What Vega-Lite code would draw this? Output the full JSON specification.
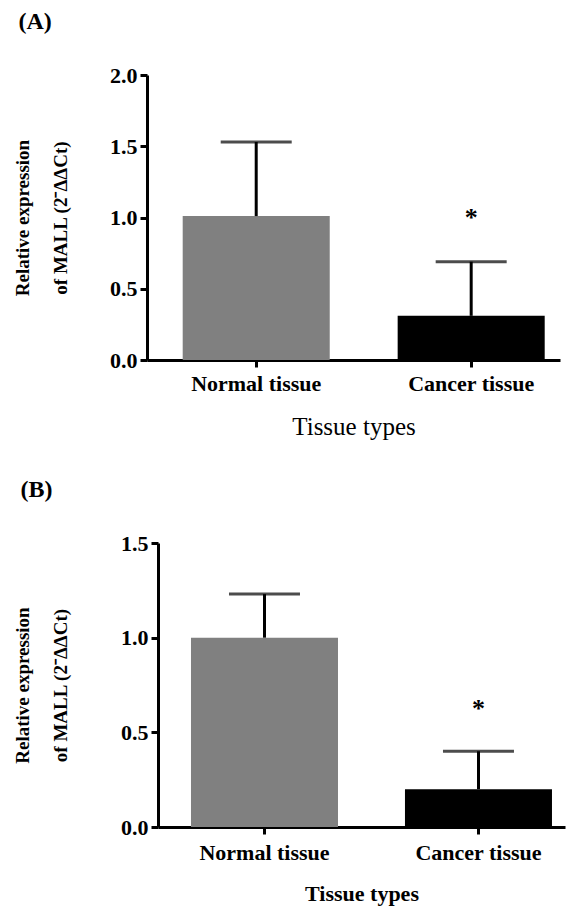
{
  "$schema": "https://vega.github.io/schema/vega-lite/v6.json",
  "padding": {"left": 12, "top": 10, "right": 5, "bottom": 5},
  "background": "white",
  "spacing": 39,
  "config": {
    "font": "Liberation Serif",
    "view": {"stroke": null},
    "axis": {
      "domainWidth": 3, "domainColor": "black", "tickWidth": 3, "tickColor": "black", "tickSize": 7,
      "labelFont": "Liberation Serif", "labelFontWeight": "bold", "labelFontSize": 22, "labelColor": "black",
      "titleFont": "Liberation Serif", "titleColor": "black", "titleFontWeight": "bold", "grid": false
    },
    "title": {"font": "Liberation Serif", "fontSize": 24, "fontWeight": "bold", "color": "black", "anchor": "start", "frame": "bounds"}
  },
  "vconcat": [
    {"hconcat": [
    {"data": {"values": []}, "mark": "point", "width": 1, "height": 1},
    {
      "title": {"text": "(A)", "offset": 30, "dx": 5},
      "width": 413, "height": 285,
      "data": {"values": [
        {"tissue": "Normal tissue", "mean": 1.01, "upper": 1.53, "star": null},
        {"tissue": "Cancer tissue", "mean": 0.31, "upper": 0.69, "star": 0.94}
      ]},
      "encoding": {
        "x": {"field": "tissue", "type": "nominal", "sort": ["Normal tissue", "Cancer tissue"],
          "scale": {"paddingInner": 0.316, "paddingOuter": 0.1186, "align": 0.7},
          "axis": {"title": "Tissue types", "labelAngle": 0, "labelPadding": 6, "titleFontSize": 25, "titleFontWeight": "normal", "titlePadding": 20}}
      },
      "layer": [
        {"mark": {"type": "bar"},
         "encoding": {
           "y": {"field": "mean", "type": "quantitative", "scale": {"domain": [0, 2], "nice": false},
             "axis": {"values": [0, 0.5, 1, 1.5, 2], "format": ".1f", "labelPadding": 3,
               "title": ["Relative expression", "of MALL (2⁻ΔΔCt)"], "titleFontSize": 19, "titleLineHeight": 38, "titlePadding": 39}},
           "color": {"field": "tissue", "type": "nominal", "scale": {"domain": ["Normal tissue", "Cancer tissue"], "range": ["#808080", "#000000"]}, "legend": null}
         }},
        {"mark": {"type": "rule", "strokeWidth": 3, "color": "black"},
         "encoding": {"y": {"field": "mean", "type": "quantitative"}, "y2": {"field": "upper"}}},
        {"mark": {"type": "tick", "thickness": 3, "size": 71, "color": "black"},
         "encoding": {"y": {"field": "upper", "type": "quantitative"}}},
        {"transform": [{"filter": "datum.star != null"}],
         "mark": {"type": "text", "text": "*", "fontSize": 26, "fontWeight": "bold", "baseline": "alphabetic", "color": "black"},
         "encoding": {"y": {"field": "star", "type": "quantitative"}}}
      ]
    }], "spacing": 0},
    {"hconcat": [
    {"data": {"values": []}, "mark": "point", "width": 1, "height": 1},
    {
      "title": {"text": "(B)", "offset": 30, "dx": 7},
      "width": 407, "height": 284,
      "data": {"values": [
        {"tissue": "Normal tissue", "mean": 1.0, "upper": 1.23, "star": null},
        {"tissue": "Cancer tissue", "mean": 0.2, "upper": 0.4, "star": 0.58}
      ]},
      "encoding": {
        "x": {"field": "tissue", "type": "nominal", "sort": ["Normal tissue", "Cancer tissue"],
          "scale": {"paddingInner": 0.313, "paddingOuter": 0.1075, "align": 0.717},
          "axis": {"title": "Tissue types", "labelAngle": 0, "labelPadding": 8, "titleFontSize": 22, "titleFontWeight": "bold", "titlePadding": 20}}
      },
      "layer": [
        {"mark": {"type": "bar"},
         "encoding": {
           "y": {"field": "mean", "type": "quantitative", "scale": {"domain": [0, 1.5], "nice": false},
             "axis": {"values": [0, 0.5, 1, 1.5], "format": ".1f", "labelPadding": 3,
               "title": ["Relative expression", "of MALL (2⁻ΔΔCt)"], "titleFontSize": 19, "titleLineHeight": 38, "titlePadding": 50}},
           "color": {"field": "tissue", "type": "nominal", "scale": {"domain": ["Normal tissue", "Cancer tissue"], "range": ["#808080", "#000000"]}, "legend": null}
         }},
        {"mark": {"type": "rule", "strokeWidth": 3, "color": "black"},
         "encoding": {"y": {"field": "mean", "type": "quantitative"}, "y2": {"field": "upper"}}},
        {"mark": {"type": "tick", "thickness": 3, "size": 71, "color": "black"},
         "encoding": {"y": {"field": "upper", "type": "quantitative"}}},
        {"transform": [{"filter": "datum.star != null"}],
         "mark": {"type": "text", "text": "*", "fontSize": 26, "fontWeight": "bold", "baseline": "alphabetic", "color": "black"},
         "encoding": {"y": {"field": "star", "type": "quantitative"}}}
      ]
    }], "spacing": 0}
  ]
}
